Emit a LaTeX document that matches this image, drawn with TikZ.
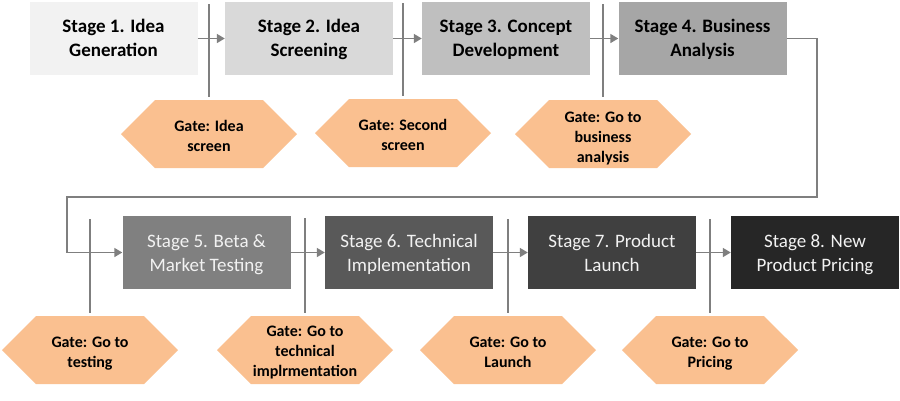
\documentclass[tikz,border=0pt]{standalone}
\usepackage{fontspec}
\setmainfont{Carlito}
\usetikzlibrary{arrows.meta,shapes.symbols}
\definecolor{gateor}{HTML}{FAC090}
\definecolor{linegray}{HTML}{7F7F7F}
\newcommand{\lowtxt}[2]{\raisebox{-#1}[\height][\depth]{\begin{tabular}{@{}c@{}}#2\end{tabular}}}
\begin{document}
\begin{tikzpicture}[x=1pt,y=-1pt,
  stagebox/.style={rectangle, minimum width=168pt, minimum height=73pt, inner sep=2pt,
    align=center, font=\fontsize{19}{23.8}\selectfont},
  toprow/.style={stagebox, text=black, font=\fontsize{19}{23.8}\selectfont\bfseries},
  botrow/.style={stagebox, text=white!95!black},
  gatebox/.style={signal, signal to=west and east, signal pointer angle=90,
    fill=gateor, minimum width=176pt, minimum height=68pt, inner sep=0pt,
    align=center, text=black, font=\fontsize{16}{20}\selectfont\bfseries},
  flow/.style={draw=linegray, line width=1.5pt, -{Triangle[length=8pt,width=9pt]}},
  gateline/.style={draw=linegray, line width=1.5pt},
]
\useasboundingbox (0,0) rectangle (900,400);
\fill[white] (0,0) rectangle (900,400);

% top row
\node[toprow, fill=black!5]  (s1) at (113.5,38.5) {\lowtxt{1.5pt}{Stage 1. Idea\\Generation}};
\node[toprow, fill=black!15] (s2) at (309,38.5)   {\lowtxt{1.5pt}{Stage 2. Idea\\Screening}};
\node[toprow, fill=black!25] (s3) at (506,38.5)   {\lowtxt{1.5pt}{Stage 3. Concept\\Development}};
\node[toprow, fill=black!35] (s4) at (702.5,38.5) {\lowtxt{1.5pt}{Stage 4. Business\\Analysis}};

% bottom row
\node[botrow, fill=black!50] (s5) at (206.5,252.5) {\lowtxt{2.5pt}{Stage 5. Beta \&\\Market Testing}};
\node[botrow, fill=black!65] (s6) at (409,252.5)   {\lowtxt{2.5pt}{Stage 6. Technical\\Implementation}};
\node[botrow, fill=black!75] (s7) at (612,252.5)   {\lowtxt{2.5pt}{Stage 7. Product\\Launch}};
\node[botrow, fill=black!85] (s8) at (815,252.5)   {\lowtxt{2.5pt}{Stage 8. New\\Product Pricing}};

% gates
\node[gatebox] (g1) at (209,134) {\lowtxt{3pt}{Gate: Idea\\screen}};
\node[gatebox] (g2) at (403,133) {\lowtxt{3pt}{Gate: Second\\screen}};
\node[gatebox] (g3) at (603,134) {\lowtxt{4pt}{Gate: Go to\\business\\analysis}};
\node[gatebox] (g4) at (90,350)  {\lowtxt{3pt}{Gate: Go to\\testing}};
\node[gatebox] (g5) at (305,350) {\lowtxt{2pt}{Gate: Go to\\technical\\implrmentation}};
\node[gatebox] (g6) at (508,350) {\lowtxt{3pt}{Gate: Go to\\Launch}};
\node[gatebox] (g7) at (710,350) {\lowtxt{3pt}{Gate: Go to\\Pricing}};

% gate line tops
\coordinate (t1) at (209,4);
\coordinate (t2) at (403,3);
\coordinate (t3) at (603,4);
\coordinate (t4) at (90,219);
\coordinate (t5) at (305,218);
\coordinate (t6) at (508,219);
\coordinate (t7) at (710,219);

\foreach \i in {1,...,7} {
  \draw[gateline, shorten >=3pt] (t\i) -- (g\i.north);
}

% flow arrows
\draw[flow] (s1.east) -- (s2.west);
\draw[flow] (s2.east) -- (s3.west);
\draw[flow] (s3.east) -- (s4.west);
\draw[flow] (s5.east) -- (s6.west);
\draw[flow] (s6.east) -- (s7.west);
\draw[flow] (s7.east) -- (s8.west);

% loop
\coordinate (loopR) at (817,197);
\coordinate (loopL) at (67,197);
\draw[flow] (s4.east) -| (loopR) -- (loopL) |- (s5.west);
\end{tikzpicture}
\end{document}
